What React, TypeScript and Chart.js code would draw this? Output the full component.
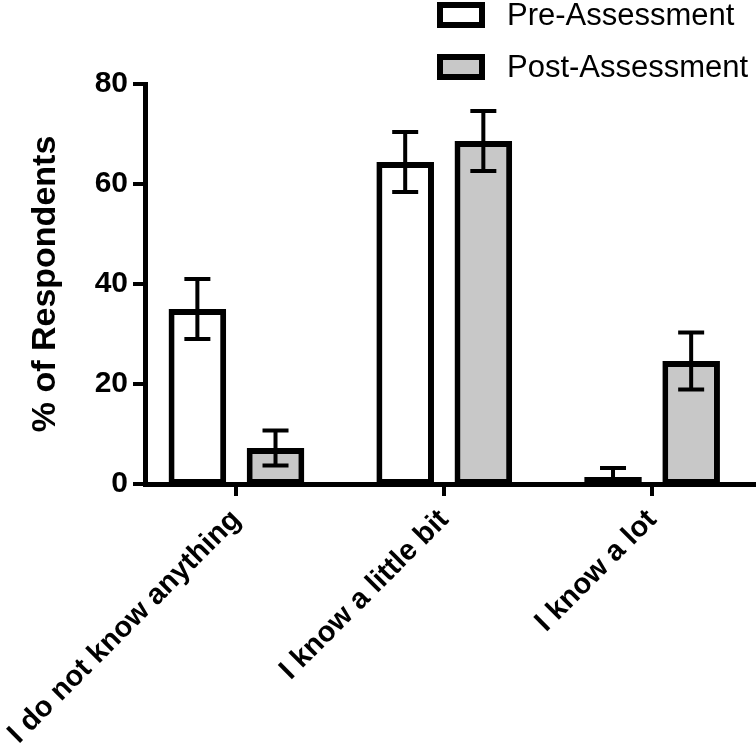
import React, { useEffect, useRef } from "react";
import { Chart, registerables } from "chart.js";

Chart.register(...registerables);

const CATEGORIES = ["I do not know anything", "I know a little bit", "I know a lot"];
const SERIES_NAMES = ["Pre-Assessment", "Post-Assessment"];
const PRE_VALUES = [35, 64.4, 1.4];
const PRE_ERRORS = [6, 6, 1.8];
const POST_VALUES = [7.2, 68.6, 24.6];
const POST_ERRORS = [3.5, 6, 5.7];
const Y_TICKS = [0, 20, 40, 60, 80];
const Y_TITLE = "% of Respondents";

const FONT = '"Liberation Sans", Arial, Helvetica, sans-serif';
const FILLS = ["#ffffff", "#c8c8c8"];
const BAR_BORDER = { top: 6, left: 6, right: 6, bottom: 3 };

const errorBarPlugin = {
  id: "errorBars",
  afterDatasetsDraw(chart: any) {
    const { ctx, chartArea } = chart;
    const yScale = chart.scales.y;
    ctx.save();
    ctx.beginPath();
    ctx.rect(chartArea.left, chartArea.top - 20, chartArea.right - chartArea.left, chartArea.bottom - chartArea.top + 20);
    ctx.clip();
    ctx.strokeStyle = "#000";
    ctx.lineWidth = 4;
    ctx.lineCap = "butt";
    chart.data.datasets.forEach((ds: any, di: number) => {
      const meta = chart.getDatasetMeta(di);
      meta.data.forEach((bar: any, i: number) => {
        const v = ds.data[i].y;
        const e = ds.errors[i];
        const yTop = yScale.getPixelForValue(v + e);
        const yBot = yScale.getPixelForValue(v - e);
        const x = bar.x;
        const half = 13;
        ctx.beginPath();
        ctx.moveTo(x, yTop);
        ctx.lineTo(x, yBot);
        ctx.moveTo(x - half, yTop);
        ctx.lineTo(x + half, yTop);
        ctx.moveTo(x - half, yBot);
        ctx.lineTo(x + half, yBot);
        ctx.stroke();
      });
    });
    ctx.restore();
  },
};

const legendPlugin = {
  id: "customLegend",
  afterDraw(chart: any) {
    const { ctx } = chart;
    ctx.save();
    chart.data.datasets.forEach((ds: any, i: number) => {
      const midY = 15 + i * 52;
      const bx = 437;
      const bw = 48;
      const bh = 26;
      ctx.fillStyle = "#000";
      ctx.fillRect(bx, midY - bh / 2, bw, bh);
      ctx.fillStyle = ds.backgroundColor;
      ctx.fillRect(bx + 6, midY - bh / 2 + 6, bw - 12, bh - 12);
      ctx.fillStyle = "#000";
      ctx.font = `31px ${FONT}`;
      ctx.textAlign = "left";
      ctx.textBaseline = "middle";
      ctx.fillText(ds.label, 507, midY + 1);
    });
    ctx.restore();
  },
};

export default function App() {
  const canvasRef = useRef<HTMLCanvasElement | null>(null);

  useEffect(() => {
    document.body.style.margin = "0";
    const canvas = canvasRef.current;
    if (!canvas) return;
    const chart = new Chart(canvas, {
      type: "bar",
      data: {
        datasets: [
          {
            label: SERIES_NAMES[0],
            data: PRE_VALUES.map((v, i) => ({ x: i, y: v })),
            errors: PRE_ERRORS,
            backgroundColor: FILLS[0],
            borderColor: "#000",
            borderWidth: BAR_BORDER,
            borderSkipped: false,
          } as any,
          {
            label: SERIES_NAMES[1],
            data: POST_VALUES.map((v, i) => ({ x: i, y: v })),
            errors: POST_ERRORS,
            backgroundColor: FILLS[1],
            borderColor: "#000",
            borderWidth: BAR_BORDER,
            borderSkipped: false,
          } as any,
        ],
      },
      options: {
        responsive: false,
        animation: false,
        events: [],
        layout: { padding: { top: 84, left: 0, right: 0, bottom: 0 } },
        datasets: { bar: { categoryPercentage: 0.752, barPercentage: 0.737 } } as any,
        plugins: { legend: { display: false }, tooltip: { enabled: false } },
        scales: {
          x: {
            type: "linear",
            offset: false,
            min: -0.44,
            max: 2.5,
            afterBuildTicks: (s: any) => {
              s.ticks = CATEGORIES.map((_, i) => ({ value: i }));
            },
            afterFit: (s: any) => {
              s.height = 269;
              s.paddingLeft = 0;
              s.paddingRight = 0;
            },
            ticks: {
              autoSkip: false,
              minRotation: 45,
              maxRotation: 45,
              padding: 7,
              color: "#000",
              font: { family: FONT, size: 29, weight: "bold" },
              callback: (v: any) => CATEGORIES[v as number],
            },
            grid: { display: true, offset: false, drawOnChartArea: false, drawTicks: true, tickLength: 12, lineWidth: 4, color: "#000" },
            border: { display: true, width: 5, color: "#000", z: 1 },
          },
          y: {
            min: 0,
            max: 80,
            afterBuildTicks: (s: any) => {
              s.ticks = Y_TICKS.map((v) => ({ value: v }));
            },
            afterFit: (s: any) => {
              s.width = 145;
              s.paddingTop = 0;
              s.paddingBottom = 0;
            },
            ticks: { padding: 5, color: "#000", font: { family: FONT, size: 30, weight: "bold" } },
            grid: { display: true, drawOnChartArea: false, drawTicks: true, tickLength: 12, lineWidth: 4, color: "#000" },
            border: { display: true, width: 5, color: "#000", z: 1 },
            title: {
              display: true,
              text: Y_TITLE,
              color: "#000",
              font: { family: FONT, size: 34, weight: "bold" },
              padding: { top: 25, bottom: 0 },
            },
          },
        },
      },
      plugins: [errorBarPlugin, legendPlugin],
    });
    return () => chart.destroy();
  }, []);

  return (
    <div style={{ position: "absolute", left: 0, top: 0, width: 756, height: 753 }}>
      <canvas ref={canvasRef} width={756} height={753} style={{ display: "block" }} />
    </div>
  );
}
